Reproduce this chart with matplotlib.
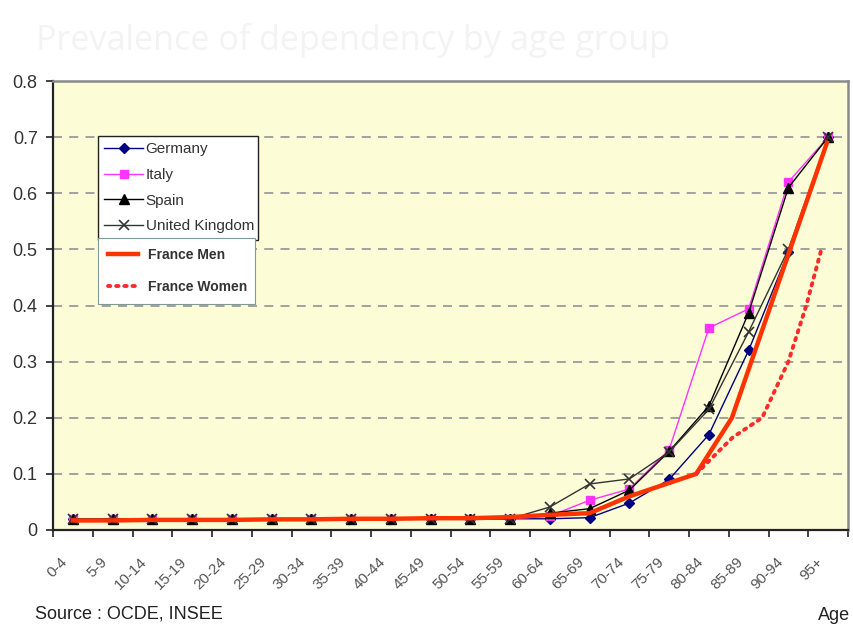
import matplotlib.pyplot as plt
import numpy as np
from matplotlib.transforms import ScaledTranslation

plt.rcParams['font.family'] = ['Liberation Sans', 'DejaVu Sans']

ages = ['0-4', '5-9', '10-14', '15-19', '20-24', '25-29', '30-34', '35-39',
        '40-44', '45-49', '50-54', '55-59', '60-64', '65-69', '70-74',
        '75-79', '80-84', '85-89', '90-94', '95+']

germany = [0.02, 0.02, 0.02, 0.02, 0.02, 0.02, 0.02, 0.02, 0.02, 0.02, 0.02, 0.02,
           0.02, 0.022, 0.048, 0.09, 0.17, 0.32, 0.495, 0.70]
italy = [0.02, 0.02, 0.02, 0.02, 0.02, 0.02, 0.02, 0.02, 0.02, 0.02, 0.02, 0.02,
         0.025, 0.053, 0.073, 0.143, 0.36, 0.394, 0.62, 0.70]
spain = [0.02, 0.02, 0.02, 0.02, 0.02, 0.02, 0.02, 0.02, 0.02, 0.02, 0.02, 0.02,
         0.03, 0.038, 0.071, 0.14, 0.221, 0.387, 0.61, 0.70]
uk = [0.02, 0.02, 0.02, 0.02, 0.02, 0.02, 0.02, 0.02, 0.02, 0.02, 0.02, 0.02,
      0.041, 0.082, 0.091, 0.139, 0.215, 0.353, 0.50, 0.70]

# France series come from another source, placed on the same age scale
france_men_pos = [0, 1, 2, 3, 4, 5, 6, 7, 8, 9, 10, 11, 12, 13, 14, 15.68, 16.58, 18.97]
france_men = [0.017, 0.017, 0.018, 0.018, 0.018, 0.019, 0.019, 0.02, 0.02, 0.021,
              0.021, 0.023, 0.027, 0.03, 0.06, 0.10, 0.20, 0.69]
france_women_pos = [15.68, 16.2, 16.6, 17.34, 18.0, 18.45, 18.83]
france_women = [0.10, 0.137, 0.165, 0.20, 0.30, 0.40, 0.50]

y_ticks = [0, 0.1, 0.2, 0.3, 0.4, 0.5, 0.6, 0.7, 0.8]
y_labels = ['0', '0.1', '0.2', '0.3', '0.4', '0.5', '0.6', '0.7', '0.8']

fig = plt.figure(figsize=(8.54, 6.37), dpi=100)
ax = fig.add_axes([53 / 854, 1 - 530 / 637, 795 / 854, 449 / 637])
ax.set_facecolor('#fcfcd6')

x = np.arange(len(ages))
g, = ax.plot(x, germany, color='#000080', lw=1.0, marker='D', ms=5, label='Germany')
i, = ax.plot(x, italy, color='#ff33ff', lw=1.0, marker='s', ms=6, label='Italy')
s, = ax.plot(x, spain, color='black', lw=1.0, marker='^', ms=6.5, label='Spain')
u, = ax.plot(x, uk, color='#333333', lw=1.0, marker='x', ms=7, mew=1.2,
             label='United Kingdom')
fm, = ax.plot(france_men_pos, france_men, color='#ff3300', lw=3.2, label='France Men')
fw, = ax.plot(france_women_pos, france_women, color='#ff2a2a', lw=2.8,
              linestyle=(0, (0.6, 1.5)), dash_capstyle='round', label='France Women')

ax.set_xlim(-0.5, len(ages) - 0.5)
ax.set_ylim(0, 0.8)
ax.set_yticks(y_ticks)
ax.set_yticklabels(y_labels)
ax.set_xticks(np.arange(len(ages) + 1) - 0.5)
ax.set_xticklabels([])
ax.set_xticks(x, minor=True)
ax.set_xticklabels(ages, minor=True, rotation=45, ha='right', va='top',
                   fontsize=11, color='#555555')
ax.tick_params(axis='x', which='minor', length=0, pad=18)
ax.tick_params(axis='x', which='major', length=5, width=1.2, color='#222222')
ax.tick_params(axis='y', length=5, width=1.2, color='#222222', labelsize=13,
               labelcolor='#333333', pad=6)
for lbl in ax.get_xticklabels(minor=True):
    lbl.set_transform(lbl.get_transform() + ScaledTranslation(-2 / 72, 0, fig.dpi_scale_trans))

ax.yaxis.grid(True, linestyle=(0, (5, 4)), color='#9a9a9a', lw=1.3)
ax.set_axisbelow(True)
for side in ['left', 'bottom']:
    ax.spines[side].set_color('#222222')
    ax.spines[side].set_linewidth(1.6)
for side in ['top', 'right']:
    ax.spines[side].set_color('#8a8a8a')
    ax.spines[side].set_linewidth(1.8)

leg1 = ax.legend(handles=[g, i, s, u], loc='upper left',
                 bbox_to_anchor=(0.0566, 0.7775, 0.2013, 0.1), mode='expand',
                 borderaxespad=0, fancybox=False, edgecolor='#222222', framealpha=1,
                 fontsize=11, handlelength=2.5, handletextpad=0.2, labelspacing=0.76,
                 borderpad=0.42, labelcolor='#333333')
leg1.get_frame().set_linewidth(1.0)
ax.add_artist(leg1)
leg2 = ax.legend(handles=[fm, fw], loc='upper left',
                 bbox_to_anchor=(0.0566, 0.550, 0.1975, 0.1), mode='expand',
                 borderaxespad=0, fancybox=False, edgecolor='#7f9a9a', framealpha=1,
                 prop={'size': 10, 'weight': 'bold'}, handlelength=2.15,
                 handletextpad=0.7, labelspacing=1.3, borderpad=0.72,
                 labelcolor='#333333')
leg2.get_frame().set_linewidth(0.8)

fig.text(36 / 854, 1 - 40 / 637, 'Prevalence of dependency by age group',
         fontsize=24.6, color='#f3f3f3', family='Open Sans', va='center')
fig.text(35 / 854, 1 - 614 / 637, 'Source : OCDE, INSEE', fontsize=13,
         color='#222222', va='center')
fig.text(850 / 854, 1 - 616 / 637, 'Age', fontsize=13, color='#222222',
         ha='right', va='center')

fig.savefig('out.png', dpi=100)
